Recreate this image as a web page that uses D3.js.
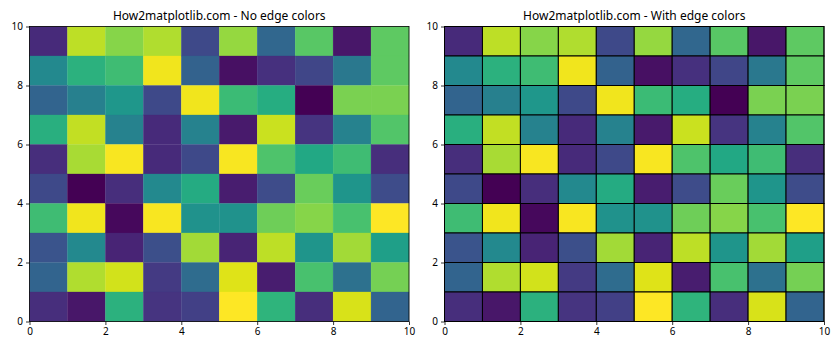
<!DOCTYPE html>
<html><head><meta charset="utf-8">
<script src="https://cdn.jsdelivr.net/npm/d3@7"></script>
<style>body{margin:0;background:#fff}svg{display:block}text{font-family:"Noto Sans","DejaVu Sans",sans-serif;fill:#000}</style>
</head><body>
<script>
// rows from y=9 (top) to y=0 (bottom), columns x=0..9
const rowsTopToBottom = [
  [0.12,0.90,0.82,0.88,0.22,0.84,0.33,0.74,0.06,0.75],
  [0.47,0.64,0.69,0.98,0.31,0.04,0.14,0.21,0.40,0.75],
  [0.32,0.43,0.53,0.22,0.98,0.68,0.62,0.00,0.80,0.80],
  [0.63,0.91,0.44,0.12,0.44,0.07,0.92,0.15,0.44,0.73],
  [0.13,0.87,0.99,0.12,0.22,0.99,0.72,0.60,0.69,0.13],
  [0.22,0.00,0.13,0.47,0.61,0.08,0.23,0.77,0.52,0.23],
  [0.69,0.98,0.02,0.99,0.51,0.51,0.78,0.82,0.71,1.00],
  [0.26,0.47,0.10,0.24,0.86,0.10,0.90,0.52,0.86,0.56],
  [0.32,0.88,0.93,0.17,0.35,0.95,0.08,0.71,0.37,0.79],
  [0.13,0.06,0.64,0.15,0.19,1.00,0.65,0.13,0.94,0.32]
];
const titles = ["How2matplotlib.com - No edge colors", "How2matplotlib.com - With edge colors"];
const tickValues = [0, 2, 4, 6, 8, 10];

(function () {
const W = 840, H = 350;
const svg = d3.select("body").append("svg").attr("width", W).attr("height", H);
const panels = [{x0: 29.5, x1: 409, edge: false}, {x0: 444.5, x1: 824, edge: true}];
const plotTop = 26.5, plotBottom = 321.5;
const all = rowsTopToBottom.flat();
const color = d3.scaleSequential(d3.interpolateViridis).domain([d3.min(all), d3.max(all)]);

const cells = [];
rowsTopToBottom.forEach((row, r) => row.forEach((v, c) => cells.push({x: c, y: 9 - r, v})));

panels.forEach((p, i) => {
  const x = d3.scaleLinear().domain([0, 10]).range([p.x0, p.x1]);
  const y = d3.scaleLinear().domain([0, 10]).range([plotBottom, plotTop]);
  const g = svg.append("g");
  g.selectAll("rect.cell").data(cells).join("rect")
    .attr("x", d => x(d.x)).attr("y", d => y(d.y + 1))
    .attr("width", d => x(d.x + 1) - x(d.x)).attr("height", d => y(d.y) - y(d.y + 1))
    .attr("fill", d => color(d.v))
    .attr("stroke", d => p.edge ? "#000" : color(d.v))
    .attr("stroke-width", p.edge ? 1 : 0.3);
  const xa = g.append("g").attr("transform", `translate(0,${plotBottom})`)
    .call(d3.axisBottom(x).tickValues(tickValues).tickSize(3.5).tickPadding(3).tickFormat(d3.format("d")));
  const ya = g.append("g").attr("transform", `translate(${p.x0},0)`)
    .call(d3.axisLeft(y).tickValues(tickValues).tickSize(3.5).tickPadding(3).tickFormat(d3.format("d")));
  [xa, ya].forEach(a => {
    a.select(".domain").remove();
    a.selectAll("text").style("font-size", "10px").attr("fill", "#000");
    a.selectAll("line").attr("stroke", "#000").attr("stroke-width", 0.8);
  });
  g.append("rect").attr("x", p.x0).attr("y", plotTop).attr("width", p.x1 - p.x0).attr("height", plotBottom - plotTop)
    .attr("fill", "none").attr("stroke", "#000").attr("stroke-width", 0.8);
  g.append("text").attr("x", (p.x0 + p.x1) / 2).attr("y", 20).attr("text-anchor", "middle")
    .style("font-size", "12px").text(titles[i]);
});
})();
</script>
</body></html>
